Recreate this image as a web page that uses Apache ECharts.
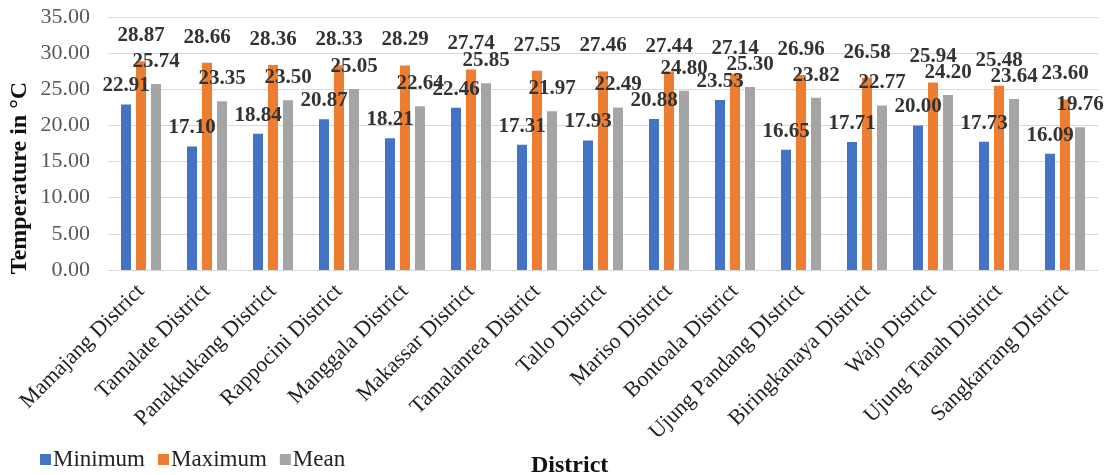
<!DOCTYPE html>
<html>
<head>
<meta charset="utf-8">
<script src="https://cdn.jsdelivr.net/npm/echarts@6/dist/echarts.min.js"></script>
<style>
html,body{margin:0;padding:0;background:#fff;}
#chart{width:1110px;height:475px;}
</style>
</head>
<body>
<div id="chart"></div>
<script>
const categories = ['Mamajang District','Tamalate District','Panakkukang District','Rappocini District','Manggala District','Makassar District','Tamalanrea District','Tallo District','Mariso District','Bontoala District','Ujung Pandang DIstrict','Biringkanaya District','Wajo District','Ujung Tanah District','Sangkarrang DIstrict'];
const minimum = [22.91,17.10,18.84,20.87,18.21,22.46,17.31,17.93,20.88,23.53,16.65,17.71,20.00,17.73,16.09];
const maximum = [28.87,28.66,28.36,28.33,28.29,27.74,27.55,27.46,27.44,27.14,26.96,26.58,25.94,25.48,23.60];
const mean = [25.74,23.35,23.50,25.05,22.64,25.85,21.97,22.49,24.80,25.30,23.82,22.77,24.20,23.64,19.76];
const seriesNames = ['Minimum','Maximum','Mean'];
const yTicks = {min:0, max:35, interval:5};

const FONT = "'Liberation Serif','Times New Roman',serif";
const chart = echarts.init(document.getElementById('chart'));
function lbl(dist){
  return {show:true, position:'top', distance:dist, fontFamily:FONT, fontWeight:'bold', fontSize:21, color:'#333',
    formatter:p=>p.value.toFixed(2)};
}
chart.setOption({
  animation:false,
  textStyle:{fontFamily:FONT},
  color:['#4472C4','#ED7D31','#A5A5A5'],
  grid:{left:108, right:12, top:17, bottom:205, containLabel:false},
  legend:{data:seriesNames, left:40, top:448, padding:0, itemWidth:11, itemHeight:11, itemGap:13,
    icon:'rect', textStyle:{fontFamily:FONT, fontSize:23, color:'#222', padding:[0,0,0,-3]}},
  title:{text:'District', left:526, top:449, textStyle:{fontFamily:FONT, fontWeight:'bold', fontSize:24, color:'#111'}},
  graphic:[{type:'text', x:20, y:178, rotation:Math.PI/2,
    style:{text:'Temperature in °C', font:"bold 24px 'Liberation Serif','Times New Roman',serif", fill:'#111', align:'center', verticalAlign:'middle'}}],
  xAxis:{type:'category', data:categories,
    axisLine:{show:true, lineStyle:{color:'#d9d9d9'}}, axisTick:{show:false},
    axisLabel:{rotate:45, interval:0, fontFamily:FONT, fontSize:22, color:'#222', margin:18}},
  yAxis:{type:'value', min:yTicks.min, max:yTicks.max, interval:yTicks.interval,
    axisLine:{show:false}, axisTick:{show:false},
    splitLine:{lineStyle:{color:'#d9d9d9'}},
    axisLabel:{fontFamily:FONT, fontSize:22, color:'#595959', margin:18, formatter:v=>v.toFixed(2)}},
  series:[
    {name:seriesNames[0], type:'bar', data:minimum, barWidth:10, barGap:'50%', label:lbl(8)},
    {name:seriesNames[1], type:'bar', data:maximum, barWidth:10, barGap:'50%', label:lbl(15)},
    {name:seriesNames[2], type:'bar', data:mean, barWidth:10, barGap:'50%', label:lbl(12)}
  ]
});
</script>
</body>
</html>
